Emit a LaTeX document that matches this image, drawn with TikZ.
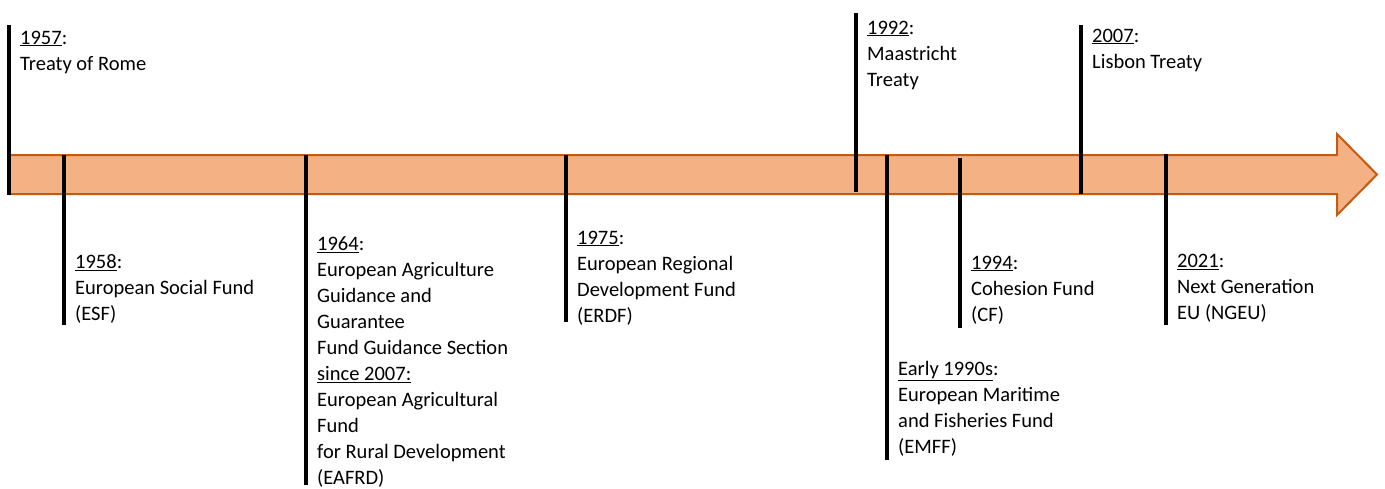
\documentclass[tikz,border=0pt]{standalone}
\usepackage{fontspec}
\setmainfont{Carlito}
\usepackage{tikz}
\definecolor{bandfill}{HTML}{F4B183}
\definecolor{bandline}{HTML}{C55A11}

\begin{document}
\begin{tikzpicture}[
    x=1pt, y=-1pt,
    band/.style={draw=bandline, fill=bandfill, line width=2pt, line join=miter},
    tick/.style={draw=black, line width=4pt},
    event/.style={anchor=north west, inner sep=0pt, align=left, font=\fontsize{20.5}{26}\selectfont}
]
    \useasboundingbox (0,0) rectangle (1385,488);

    % Time band
    \draw[band] (9,155) -- (1337,155) -- (1337,134) -- (1377,174.5) -- (1337,215) -- (1337,194) -- (9,194) -- cycle;

    % Tick ends
    \coordinate (rome-a) at (9,25);      \coordinate (rome-b) at (9,195);
    \coordinate (esf-a) at (64,155);     \coordinate (esf-b) at (64,325);
    \coordinate (eafrd-a) at (306,155);  \coordinate (eafrd-b) at (306,485);
    \coordinate (erdf-a) at (566,155);   \coordinate (erdf-b) at (566,322);
    \coordinate (maas-a) at (856,13);    \coordinate (maas-b) at (856,192);
    \coordinate (emff-a) at (887,155);   \coordinate (emff-b) at (887,460);
    \coordinate (cf-a) at (960,158);     \coordinate (cf-b) at (960,328);
    \coordinate (lisb-a) at (1081,25);   \coordinate (lisb-b) at (1081,194);
    \coordinate (ngeu-a) at (1166,154);  \coordinate (ngeu-b) at (1166,325);

    % Ticks
    \draw[tick] (rome-a) -- (rome-b);
    \draw[tick] (esf-a) -- (esf-b);
    \draw[tick] (eafrd-a) -- (eafrd-b);
    \draw[tick] (erdf-a) -- (erdf-b);
    \draw[tick] (maas-a) -- (maas-b);
    \draw[tick] (emff-a) -- (emff-b);
    \draw[tick] (cf-a) -- (cf-b);
    \draw[tick] (lisb-a) -- (lisb-b);
    \draw[tick] (ngeu-a) -- (ngeu-b);

    % Events above the band
    \node[event] (rome) at (20,30.5) {\underline{1957}:\\Treaty of Rome};
    \node[event] (maas) at (867,20.5) {\underline{1992}:\\Maastricht\\Treaty};
    \node[event] (lisb) at (1092,28.5) {\underline{2007}:\\Lisbon Treaty};

    % Events below the band
    \node[event] (esf) at (75,254) {\underline{1958}:\\European Social Fund\\(ESF)};
    \node[event] (eafrd) at (317,236.5) {\underline{1964}:\\European Agriculture\\Guidance and\\Guarantee\\Fund Guidance Section\\\underline{since 2007:}\\European Agricultural\\Fund\\for Rural Development\\(EAFRD)};
    \node[event] (erdf) at (577,230.5) {\underline{1975}:\\European Regional\\Development Fund\\(ERDF)};
    \node[event] (emff) at (898,361.5) {\underline{Early 1990s}:\\European Maritime\\and Fisheries Fund\\(EMFF)};
    \node[event] (cf) at (971,255.5) {\underline{1994}:\\Cohesion Fund\\(CF)};
    \node[event] (ngeu) at (1177,254) {\underline{2021}:\\Next Generation\\EU (NGEU)};
\end{tikzpicture}
\end{document}
